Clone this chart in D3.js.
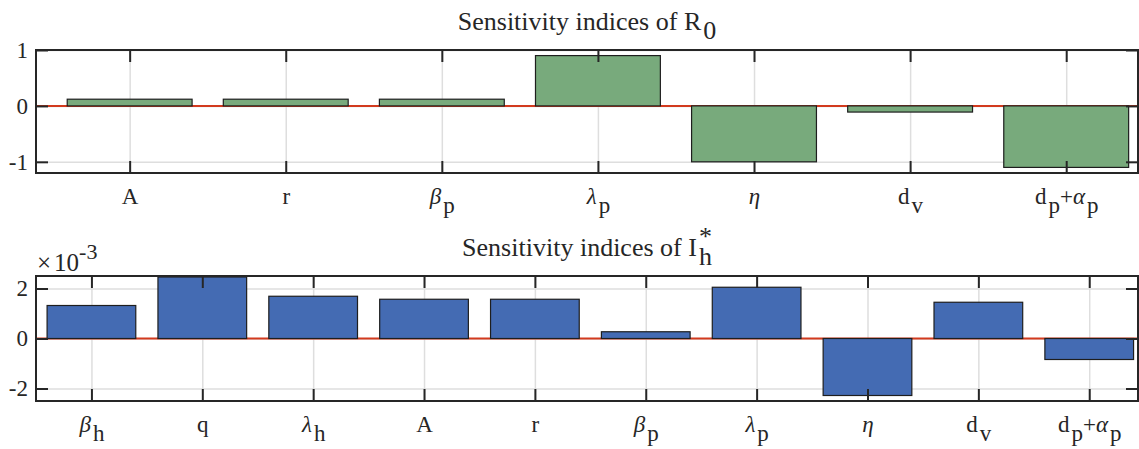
<!DOCTYPE html>
<html>
<head>
<meta charset="utf-8">
<script src="https://cdn.jsdelivr.net/npm/d3@7"></script>
<style>
  body { margin: 0; background: #fff; }
</style>
</head>
<body>
<svg id="chart" width="1139" height="449"></svg>
<script>
// categories use a small tex-like markup: "_x" subscript, "^x" superscript
const r0Categories = ["A", "r", "β_p", "λ_p", "η", "d_v", "d_p+α_p"];
const r0Values = [0.12, 0.12, 0.12, 0.9, -1.0, -0.11, -1.1];
const r0Ticks = [-1, 0, 1];

const ihCategories = ["β_h", "q", "λ_h", "A", "r", "β_p", "λ_p", "η", "d_v", "d_p+α_p"];
const ihValues = [1.32, 2.46, 1.69, 1.57, 1.57, 0.27, 2.05, -2.28, 1.45, -0.84]; // x 10^-3
const ihTicks = [-2, 0, 2];

const FONT = '"Liberation Serif", "DejaVu Serif", "Times New Roman", serif';
const INK = '#262626';

const svg = d3.select('#chart');

// write a label with sub/superscripts into a <text>
function texLabel(textSel, str) {
  const greek = /[α-ω]/;
  let shift = 0, prevSup = null;
  textSel.style('font-family', FONT).attr('fill', INK);
  for (let i = 0; i < str.length; i++) {
    let ch = str[i], off = 0, kind = null;
    if (ch === '_' || ch === '^') {
      kind = ch;
      off = ch === '_' ? 9 : -11;
      ch = str[++i];
    }
    const t = textSel.append('tspan')
      .attr('dy', off - shift)
      .style('font-style', greek.test(ch) ? 'italic' : null)
      .text(ch);
    if (kind) t.attr('dx', 2);
    // stack a subscript right under a preceding superscript
    if (kind === '_' && prevSup) t.attr('dx', -prevSup.node().getComputedTextLength());
    prevSup = kind === '^' ? t : null;
    shift = off;
  }
}

function barPanel(cfg) {
  const { left, right, top, bottom, xDomain, yDomain, cats, values, yTicks, color, title, titleY } = cfg;

  const x = d3.scaleLinear().domain(xDomain).range([left, right]);
  const y = d3.scaleLinear().domain(yDomain).range([bottom, top]);
  const idx = d3.range(1, cats.length + 1);
  const g = svg.append('g');

  // grid lines
  g.append('g')
    .attr('transform', `translate(0,${bottom})`)
    .call(d3.axisBottom(x).tickValues(idx).tickSize(-(bottom - top)).tickFormat(''))
    .call(a => a.select('.domain').remove())
    .call(a => a.selectAll('line').attr('stroke', '#dedede').attr('stroke-width', 1.5));
  g.append('g')
    .attr('transform', `translate(${left},0)`)
    .call(d3.axisLeft(y).tickValues(yTicks).tickSize(-(right - left)).tickFormat(''))
    .call(a => a.select('.domain').remove())
    .call(a => a.selectAll('line').attr('stroke', '#dedede').attr('stroke-width', 1.5));

  // base line
  g.append('line')
    .attr('x1', left).attr('x2', right)
    .attr('y1', y(0)).attr('y2', y(0))
    .attr('stroke', '#d23a1e').attr('stroke-width', 2);

  // bars
  const bw = x(0.8) - x(0);
  g.selectAll('.bar')
    .data(values)
    .join('rect')
    .attr('class', 'bar')
    .attr('x', (d, i) => x(i + 1) - bw / 2)
    .attr('width', bw)
    .attr('y', d => y(Math.max(0, d)))
    .attr('height', d => Math.abs(y(d) - y(0)))
    .attr('fill', color)
    .attr('stroke', '#1e1e1e')
    .attr('stroke-width', 1.2);

  // axes, ticks pointing inward
  const styleAxis = a => {
    a.attr('font-family', null).attr('font-size', null);
    a.select('.domain').remove();
    a.selectAll('line').attr('stroke', INK).attr('stroke-width', 2);
  };
  const xb = g.append('g').attr('transform', `translate(0,${bottom})`)
    .call(d3.axisBottom(x).tickValues(idx).tickSize(-12).tickFormat(() => ''))
    .call(styleAxis);
  g.append('g').attr('transform', `translate(0,${top})`)
    .call(d3.axisTop(x).tickValues(idx).tickSize(-12).tickFormat(''))
    .call(styleAxis);
  g.append('g').attr('transform', `translate(${left},0)`)
    .call(d3.axisLeft(y).tickValues(yTicks).tickSize(-12).tickPadding(8).tickFormat(d => String(d)))
    .call(styleAxis)
    .call(a => a.selectAll('text').attr('x', -8).attr('font-size', 23)
      .style('font-family', FONT).attr('fill', INK));
  g.append('g').attr('transform', `translate(${right},0)`)
    .call(d3.axisRight(y).tickValues(yTicks).tickSize(-12).tickFormat(''))
    .call(styleAxis);

  xb.selectAll('.tick text')
    .text(null)
    .attr('y', 31).attr('dy', null)
    .attr('font-size', 23)
    .each(function (d) { texLabel(d3.select(this), cats[d - 1]); });

  // box
  g.append('rect')
    .attr('x', left).attr('y', top)
    .attr('width', right - left).attr('height', bottom - top)
    .attr('fill', 'none').attr('stroke', INK).attr('stroke-width', 2);

  // title
  const tt = g.append('text')
    .attr('x', (left + right) / 2).attr('y', titleY)
    .attr('text-anchor', 'middle').attr('font-size', 26);
  texLabel(tt, title);

  return { x, y, g };
}

barPanel({
  left: 36, right: 1138, top: 50, bottom: 173,
  xDomain: [0.4, 7.46], yDomain: [-1.2, 1],
  cats: r0Categories, values: r0Values, yTicks: r0Ticks,
  color: '#78aa7c', title: 'Sensitivity indices of R_0', titleY: 30
});

const p2 = barPanel({
  left: 36, right: 1138, top: 276, bottom: 401,
  xDomain: [0.5, 10.44], yDomain: [-2.5, 2.5],
  cats: ihCategories, values: ihValues, yTicks: ihTicks,
  color: '#446bb3', title: 'Sensitivity indices of I^*_h', titleY: 256
});

// exponent label
const ex = p2.g.append('text')
  .attr('x', 37).attr('y', 271)
  .attr('font-size', 25)
  .style('font-family', FONT).attr('fill', INK);
ex.append('tspan').text('×');
ex.append('tspan').attr('dx', 3).text('10');
ex.append('tspan').attr('dy', -12).attr('font-size', 22).text('-3');
</script>
</body>
</html>
